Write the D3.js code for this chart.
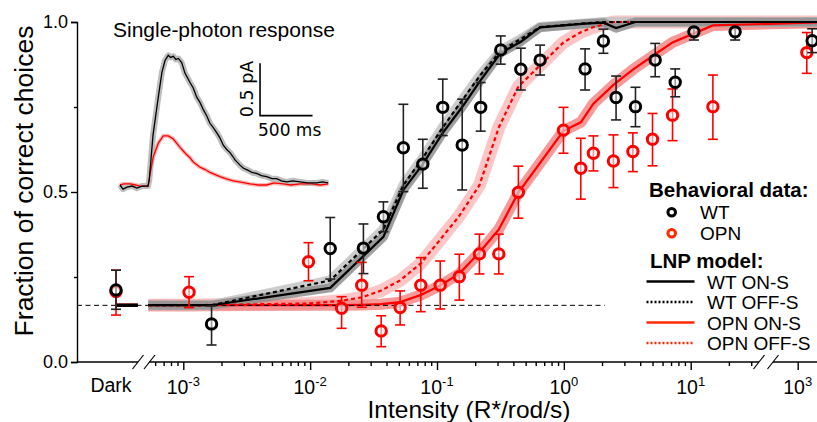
<!DOCTYPE html>
<html>
<head>
<meta charset="utf-8">
<script src="https://cdn.jsdelivr.net/npm/d3@7"></script>
<style>
  body { margin: 0; background: #fff; }
  svg { display: block; font-family: "Liberation Sans", Arial, sans-serif; }
</style>
</head>
<body>
<div id="chart"></div>
<script>
const WIDTH = 817;
const HEIGHT = 422;

// Behavioral data, WT ("Dark" = no light)
const wtIntensity = ['Dark', 1.67e-3, 1.44e-2, 2.63e-2, 3.78e-2, 5.43e-2, 7.73e-2, 0.111, 0.158, 0.221, 0.318, 0.458, 0.65, 1.47, 2.05, 2.58, 3.67, 5.25, 7.55, 10.6, 22.4, 1300];
const wtFraction  = [0.212, 0.112, 0.334, 0.335, 0.427, 0.630, 0.582, 0.749, 0.638, 0.749, 0.918, 0.861, 0.888, 0.862, 0.944, 0.778, 0.751, 0.888, 0.823, 0.971, 0.971, 0.945];
const wtErrLow    = [0.155, 0.050, 0.244, 0.260, 0.383, 0.501, 0.511, 0.666, 0.506, 0.679, 0.876, 0.800, 0.844, 0.800, 0.908, 0.712, 0.692, 0.839, 0.780, 0.947, 0.947, 0.910];
const wtErrHigh   = [0.270, 0.165, 0.425, 0.406, 0.471, 0.758, 0.655, 0.832, 0.773, 0.822, 0.959, 0.923, 0.932, 0.921, 0.979, 0.841, 0.808, 0.937, 0.862, 0.982, 0.982, 0.980];

// Behavioral data, OPN
const opnIntensity = ['Dark', 1.11e-3, 9.7e-3, 1.77e-2, 2.55e-2, 3.63e-2, 5.12e-2, 7.45e-2, 0.106, 0.150, 0.216, 0.307, 0.438, 0.993, 1.36, 1.71, 2.46, 3.5, 5.0, 7.19, 14.96, 1180];
const opnFraction  = [0.207, 0.205, 0.295, 0.158, 0.226, 0.091, 0.160, 0.226, 0.226, 0.251, 0.318, 0.318, 0.499, 0.682, 0.570, 0.614, 0.591, 0.619, 0.655, 0.726, 0.751, 0.910];
const opnErrLow    = [0.138, 0.160, 0.239, 0.099, 0.161, 0.045, 0.109, 0.148, 0.156, 0.182, 0.259, 0.259, 0.423, 0.614, 0.479, 0.562, 0.513, 0.560, 0.577, 0.651, 0.655, 0.849];
const opnErrHigh   = [0.270, 0.251, 0.351, 0.192, 0.293, 0.136, 0.209, 0.307, 0.297, 0.317, 0.376, 0.376, 0.576, 0.749, 0.658, 0.665, 0.668, 0.674, 0.731, 0.803, 0.844, 0.969];

// LNP model predictions
const wtModelIntensity = ['Dark', 5.3e-4, 1.67e-3, 1.44e-2, 3.78e-2, 5.43e-2, 7.73e-2, 0.111, 0.158, 0.221, 0.318, 0.458, 0.65, 1.47, 2.05, 2.58, 3.67, 5.25, 7.55, 10.6, 22.4, 2000];
const wtOnS  = [0.167, 0.167, 0.167, 0.218, 0.368, 0.506, 0.582, 0.674, 0.750, 0.829, 0.909, 0.942, 0.984, 0.995, 0.998, 0.982, 1.0, 1.0, 1.0, 1.0, 1.0, 1.0];
const wtOffS = [0.167, 0.167, 0.167, 0.240, 0.390, 0.520, 0.600, 0.690, 0.770, 0.845, 0.915, 0.950, 0.985, 0.996, 1.0, 1.0, 1.0, 1.0, 1.0, 1.0, 1.0, 1.0];

const opnModelIntensity = ['Dark', 5.3e-4, 1.11e-3, 9.7e-3, 1.77e-2, 2.55e-2, 3.63e-2, 5.12e-2, 7.45e-2, 0.106, 0.150, 0.216, 0.307, 0.438, 0.993, 1.36, 1.71, 2.46, 3.5, 5.0, 7.19, 14.96, 2000];
const opnOnS  = [0.167, 0.167, 0.167, 0.167, 0.167, 0.168, 0.170, 0.176, 0.197, 0.225, 0.260, 0.322, 0.390, 0.498, 0.680, 0.705, 0.760, 0.815, 0.860, 0.900, 0.940, 0.990, 1.0];
const opnOffS = [0.167, 0.167, 0.167, 0.172, 0.180, 0.190, 0.210, 0.240, 0.290, 0.360, 0.430, 0.520, 0.690, 0.810, 0.940, 0.970, 0.985, 1.0, 1.0, 1.0, 1.0, 1.0, 1.0];

const chanceLevel = 1 / 6;
const chanceEnd = 2.1;

// Single-photon response (time in ms, current in pA)
const wtTraceT = [-267, -238, -200, -152, -105, -57, 0, 12, 48, 98, 133, 162, 193, 215, 241, 265, 289, 321, 352, 400, 430, 464, 495, 527, 560, 590, 620, 654, 685, 717, 750, 781, 810, 829, 876, 910, 955, 990, 1035, 1080, 1130, 1180, 1226, 1270, 1321, 1380, 1448, 1520, 1607, 1660, 1717];
const wtTraceI = [0, -0.04, -0.02, -0.01, -0.03, -0.01, -0.01, 0.05, 0.48, 0.84, 1.08, 1.19, 1.24, 1.22, 1.23, 1.20, 1.21, 1.17, 1.07, 0.98, 0.93, 0.84, 0.79, 0.72, 0.66, 0.59, 0.55, 0.50, 0.45, 0.38, 0.34, 0.31, 0.27, 0.24, 0.19, 0.16, 0.14, 0.12, 0.11, 0.09, 0.08, 0.06, 0.06, 0.04, 0.03, 0.04, 0.03, 0.02, 0.02, 0.03, 0.02];
const opnTraceT = [-267, -230, -171, -120, -76, 0, 19, 50, 98, 146, 193, 241, 305, 340, 369, 400, 431, 495, 540, 590, 640, 686, 740, 812, 870, 971, 1050, 1130, 1200, 1290, 1360, 1448, 1560, 1640, 1717];
const opnTraceI = [0, 0.01, 0.01, 0, -0.01, -0.01, 0.10, 0.27, 0.40, 0.47, 0.47, 0.44, 0.36, 0.32, 0.29, 0.26, 0.22, 0.17, 0.15, 0.12, 0.10, 0.08, 0.06, 0.04, 0.03, 0.01, 0.0, 0.0, 0.02, 0.01, 0.0, 0.01, 0.01, 0.0, 0.01];
const scaleBarStart = [1067, 0.663]; // ms, pA
const scaleBarSize = [500, 0.5];

const RED = '#ff0000';
const LEGEND_RED = '#ff2a00';

const svg = d3.select('#chart').append('svg')
  .attr('width', WIDTH)
  .attr('height', HEIGHT);

// scales
const y = d3.scaleLinear().domain([0, 1]).range([362, 22]);
const xMain = d3.scaleLog().domain([1e-3, 1e1]).range([183.3, 690.7]);
const xHigh = d3.scaleLog().domain([1e3, 1e4]).range([797.7, 924.5]);
const xDark = d3.scaleBand().domain(['Dark']).range([77, 155]);
const darkCenter = xDark('Dark') + xDark.bandwidth() / 2;

function xPos(v) {
  if (v === 'Dark') return darkCenter;
  return v >= 500 ? xHigh(v) : xMain(v);
}

// model bands and lines
function modelPath(intens, vals) {
  const pts = intens.map((v, i) => [v, vals[i]]).filter(d => d[0] !== 'Dark');
  return d3.line().x(d => xPos(d[0])).y(d => y(d[1]))(pts);
}
function darkPath(vals) {
  const v = vals[0];
  return d3.line()([[darkCenter, y(v)], [darkCenter + xDark.bandwidth() * 0.28, y(v)]]);
}

const models = [
  { I: opnModelIntensity, v: opnOffS, band: '#fbbcbc', bandW: 13, color: RED, dash: '4,3' },
  { I: opnModelIntensity, v: opnOnS, band: '#f38787', bandW: 11, color: RED, dash: null },
  { I: wtModelIntensity, v: wtOffS, band: '#c4c4c4', bandW: 10, color: '#000', dash: '4,3' },
  { I: wtModelIntensity, v: wtOnS, band: '#8e8e8e', bandW: 9, color: '#000', dash: null }
];

const gModel = svg.append('g').attr('fill', 'none');
models.forEach(m => {
  gModel.append('path')
    .attr('d', modelPath(m.I, m.v))
    .attr('stroke', m.band)
    .attr('stroke-opacity', 0.85)
    .attr('stroke-width', m.bandW)
    .attr('stroke-linejoin', 'round');
});
models.forEach(m => {
  gModel.append('path')
    .attr('d', modelPath(m.I, m.v))
    .attr('stroke', m.color)
    .attr('stroke-width', 2.2)
    .attr('stroke-dasharray', m.dash);
  gModel.append('path')
    .attr('d', darkPath(m.v))
    .attr('stroke', m.color)
    .attr('stroke-width', 3);
});

// chance level
svg.append('line')
  .attr('x1', 77).attr('x2', xMain(chanceEnd))
  .attr('y1', y(chanceLevel)).attr('y2', y(chanceLevel))
  .attr('stroke', '#000')
  .attr('stroke-width', 1)
  .attr('stroke-dasharray', '5,3.5');

// data points
function drawPoints(intens, frac, lo, hi, color, barColor) {
  const g = svg.append('g');
  intens.forEach((v, i) => {
    const x = xPos(v);
    g.append('line').attr('x1', x).attr('x2', x).attr('y1', y(lo[i])).attr('y2', y(hi[i]))
      .attr('stroke', barColor).attr('stroke-width', 1.6);
    [lo[i], hi[i]].forEach(e => {
      g.append('line').attr('x1', x - 5).attr('x2', x + 5).attr('y1', y(e)).attr('y2', y(e))
        .attr('stroke', barColor).attr('stroke-width', 1.6);
    });
    g.append('circle').attr('cx', x).attr('cy', y(frac[i])).attr('r', 5.2)
      .attr('fill', '#fff').attr('fill-opacity', 0.55)
      .attr('stroke', color).attr('stroke-width', 3);
  });
}
drawPoints(opnIntensity, opnFraction, opnErrLow, opnErrHigh, RED, RED);
drawPoints(wtIntensity, wtFraction, wtErrLow, wtErrHigh, '#000', '#222');

// y axis
const yAxis = d3.axisLeft(y).tickValues([0, 0.5, 1]).tickFormat(d3.format('.1f')).tickSize(6);
const gy = svg.append('g').attr('transform', 'translate(77,0)').call(yAxis);
gy.selectAll('text').attr('font-size', 18).attr('font-family', '"Liberation Sans", Arial, sans-serif').attr('fill', '#000');
gy.selectAll('line, path').attr('stroke', '#000').attr('stroke-width', 1.4);
const gyMinor = svg.append('g').attr('transform', 'translate(77,0)')
  .call(d3.axisLeft(y).tickValues([0.25, 0.75]).tickFormat('').tickSize(3));
gyMinor.select('.domain').remove();
gyMinor.selectAll('line').attr('stroke-width', 1.4);

// x axis
const xMajor = [1e-3, 1e-2, 1e-1, 1, 10];
const xMinor = [];
[1e-4, 1e-3, 1e-2, 1e-1, 1, 10].forEach(d => {
  for (let k = 2; k <= 9; k++) {
    const t = d * k;
    if (t >= 6e-4 && t <= 30) xMinor.push(t);
  }
});

const axisY = 362;
const gx = svg.append('g').attr('transform', 'translate(0,' + axisY + ')');
gx.append('g').call(d3.axisBottom(xMain).tickValues(xMajor).tickFormat('').tickSize(8))
  .select('.domain').remove();
gx.append('g').call(d3.axisBottom(xMain).tickValues(xMinor).tickFormat('').tickSize(4))
  .select('.domain').remove();
gx.append('g').call(d3.axisBottom(xHigh).tickValues([1e3]).tickFormat('').tickSize(8))
  .select('.domain').remove();
gx.selectAll('line').attr('stroke', '#000').attr('stroke-width', 1.4);

// axis baseline with breaks
[[77, 138], [149.5, 759], [773, WIDTH]].forEach(s => {
  gx.append('line').attr('x1', s[0]).attr('x2', s[1]).attr('y1', 0).attr('y2', 0)
    .attr('stroke', '#000').attr('stroke-width', 1.4);
});
[[138, 149.5], [759, 773]].forEach(b => {
  b.forEach(cx => {
    gx.append('line').attr('x1', cx - 5.5).attr('x2', cx + 5.5).attr('y1', 7).attr('y2', -7)
      .attr('stroke', '#000').attr('stroke-width', 1.2);
  });
});

// x tick labels
const labelY = axisY + 32;
const expLabels = xMajor.map(v => ({ x: xMain(v), e: Math.round(Math.log10(v)) }))
  .concat([{ x: xHigh(1e3), e: 3 }]);
expLabels.forEach(d => {
  const t = svg.append('text')
    .attr('x', d.x).attr('y', labelY)
    .attr('text-anchor', 'middle')
    .attr('font-size', 19.5);
  t.append('tspan').text('10');
  t.append('tspan').attr('dy', -8).attr('font-size', 13).text(String(d.e));
});
svg.append('text')
  .attr('x', darkCenter - 5).attr('y', labelY - 2)
  .attr('text-anchor', 'middle')
  .attr('font-size', 19.5)
  .text('Dark');

// axis titles
svg.append('text')
  .attr('x', 469).attr('y', 418)
  .attr('text-anchor', 'middle')
  .attr('font-size', 24.5)
  .text('Intensity (R*/rod/s)');
svg.append('text')
  .attr('transform', 'translate(33,181) rotate(-90)')
  .attr('text-anchor', 'middle')
  .attr('font-size', 26.5)
  .text('Fraction of correct choices');

// legend
const lg = svg.append('g');
lg.append('text').attr('x', 649).attr('y', 197).attr('font-size', 20.5).attr('font-weight', 'bold')
  .text('Behavioral data:');
[['WT', '#000', 212.3], ['OPN', LEGEND_RED, 233.3]].forEach(d => {
  lg.append('circle').attr('cx', 671.7).attr('cy', d[2]).attr('r', 3.8)
    .attr('fill', '#fff').attr('stroke', d[1]).attr('stroke-width', 3);
  lg.append('text').attr('x', 700).attr('y', d[2] + 7).attr('font-size', 19).text(d[0]);
});
lg.append('text').attr('x', 650).attr('y', 268).attr('font-size', 20.5).attr('font-weight', 'bold')
  .text('LNP model:');
[['WT ON-S', '#000', null], ['WT OFF-S', '#000', '2,2'], ['OPN ON-S', LEGEND_RED, null], ['OPN OFF-S', LEGEND_RED, '2,2']]
  .forEach((d, i) => {
    const ly = 281.5 + i * 20.5;
    lg.append('line').attr('x1', 646.5).attr('x2', 694.5).attr('y1', ly).attr('y2', ly)
      .attr('stroke', d[1]).attr('stroke-width', 2.5).attr('stroke-dasharray', d[2]);
    lg.append('text').attr('x', 707).attr('y', ly + 7).attr('font-size', 19).text(d[0]);
  });

// inset: single-photon response
const xIn = d3.scaleLinear().domain([0, 500]).range([148, 200.5]);
const yIn = d3.scaleLinear().domain([0, 0.5]).range([185, 132.7]);
const inset = svg.append('g').attr('fill', 'none');
const traceLine = (T, I) => d3.line().x((d, i) => xIn(T[i])).y(d => yIn(d))(I);

inset.append('path').attr('d', traceLine(opnTraceT, opnTraceI))
  .attr('stroke', '#f7b8b8').attr('stroke-width', 4).attr('stroke-linejoin', 'round');
inset.append('path').attr('d', traceLine(wtTraceT, wtTraceI))
  .attr('stroke', '#bdbdbd').attr('stroke-width', 6).attr('stroke-linejoin', 'round');
inset.append('path').attr('d', traceLine(opnTraceT, opnTraceI))
  .attr('stroke', RED).attr('stroke-width', 1.3);
inset.append('path').attr('d', traceLine(wtTraceT, wtTraceI))
  .attr('stroke', '#000').attr('stroke-width', 1.3);

const sb0x = xIn(scaleBarStart[0]), sb0y = yIn(scaleBarStart[1]);
inset.append('path')
  .attr('d', d3.line()([
    [sb0x, yIn(scaleBarStart[1] + scaleBarSize[1])],
    [sb0x, sb0y],
    [xIn(scaleBarStart[0] + scaleBarSize[0]), sb0y]
  ]))
  .attr('stroke', '#000').attr('stroke-width', 1.6);

svg.append('text')
  .attr('x', 113).attr('y', 37)
  .attr('font-size', 21)
  .text('Single-photon response');
svg.append('text')
  .attr('x', 258).attr('y', 136)
  .attr('font-family', '"DejaVu Sans", Verdana, sans-serif')
  .attr('font-size', 17)
  .text('500 ms');
svg.append('text')
  .attr('transform', 'translate(253,89) rotate(-90)')
  .attr('text-anchor', 'middle')
  .attr('font-family', '"DejaVu Sans", Verdana, sans-serif')
  .attr('font-size', 17.5)
  .text('0.5 pA');
</script>
</body>
</html>
